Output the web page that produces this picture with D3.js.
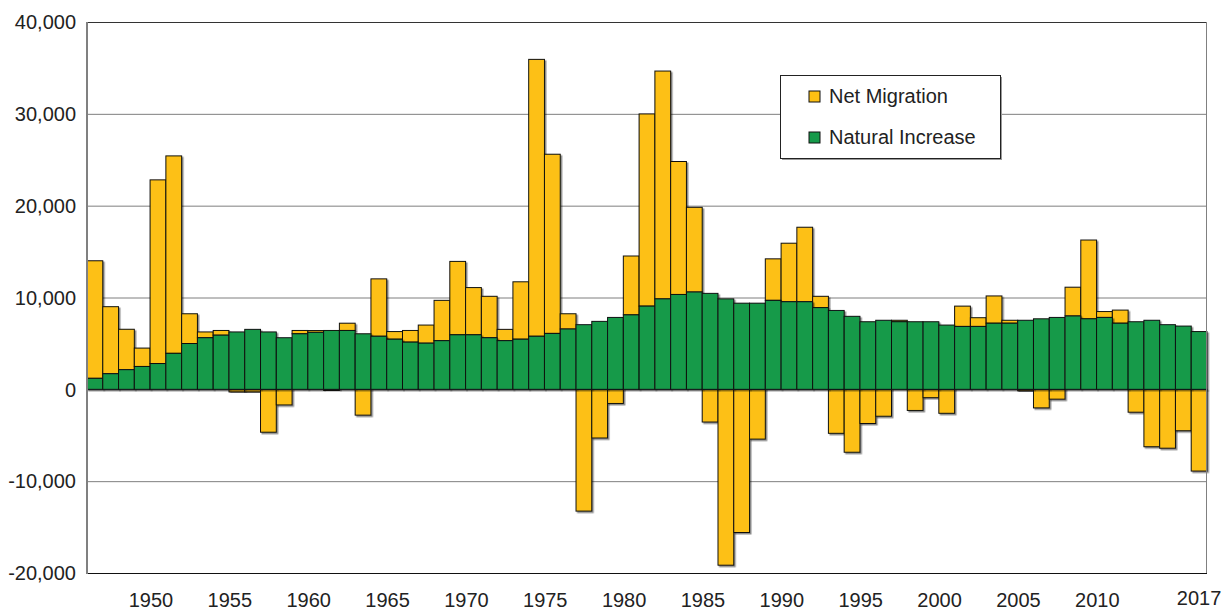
<!DOCTYPE html>
<meta charset="utf-8">
<style>
body { margin: 0; background: #fff; }
svg { font-family: "Liberation Sans", Arial, sans-serif; }
.tick text { font-size: 20px; fill: #222; }
</style>
<svg width="1230" height="610"></svg>
<script src="https://d3js.org/d3.v7.min.js"></script>
<script>

// years on the x axis
var years = d3.range(1947, 2018);

// natural increase (births - deaths)
var naturalIncrease = [
  1200, 1700, 2140, 2490, 2810, 3920, 4990, 5620, 5900, 6250,
  6530, 6250, 5620, 6050, 6210, 6410, 6410, 6050, 5780, 5460,
  5140, 5030, 5300, 5940, 5940, 5620, 5300, 5460, 5780, 6090,
  6570, 7040, 7400, 7830, 8110, 9060, 9850, 10330, 10600, 10450,
  9850, 9380, 9380, 9690, 9540, 9540, 8900, 8590, 7950, 7360,
  7520, 7360, 7360, 7360, 7000, 6850, 6850, 7200, 7200, 7520,
  7680, 7830, 7990, 7680, 7830, 7200, 7360, 7520, 7040, 6890,
  6290
];

// net migration
var netMigration = [
  12800, 7300, 4400, 2000, 20000, 21500, 3240, 630, 510, -280,
  -280, -4670, -1700, 360, 200, -120, 790, -2810, 6250, 830,
  1270, 1970, 4390, 7990, 5140, 4510, 1230, 6250, 30150, 19510,
  1660, -13260, -5300, -1540, 6410, 20930, 24810, 14480, 9220, -3560,
  -19150, -15590, -5420, 4520, 6370, 8110, 1230, -4790, -6850, -3720,
  -2930, 160, -2300, -910, -2610, 2210, 950, 2970, 320, -160,
  -2020, -1070, 3130, 8580, 640, 1430, -2490, -6250, -6410, -4510,
  -8900
];

var xLabels = [1950, 1955, 1960, 1965, 1970, 1975, 1980, 1985, 1990, 1995, 2000, 2005, 2010, 2017];
var yTicks = [-20000, -10000, 0, 10000, 20000, 30000, 40000];

var series = ["Net Migration", "Natural Increase"];
var colors = ["#fdc013", "#159a4a"];

var svg = d3.select("svg");

var plotLeft = 87, plotRight = 1207, plotTop = 22, plotBottom = 573;

var x = d3.scaleBand()
    .domain(years)
    .range([plotLeft, plotRight])
    .padding(0);

var y = d3.scaleLinear()
    .domain([-20000, 40000])
    .range([plotBottom, plotTop]);

var data = years.map(function(yr, i) {
  return { year: yr, nat: naturalIncrease[i], mig: netMigration[i] };
});

// gridlines
svg.append("g")
  .selectAll("line")
  .data(yTicks)
  .enter().append("line")
    .attr("x1", plotLeft)
    .attr("x2", plotRight)
    .attr("y1", function(d) { return y(d) + 0.5; })
    .attr("y2", function(d) { return y(d) + 0.5; })
    .attr("stroke", "#7f7f7f")
    .attr("stroke-width", 1);

// bar shadow filter
var defs = svg.append("defs");
var f = defs.append("filter").attr("id", "shadow")
    .attr("x", "-20%").attr("y", "-20%").attr("width", "140%").attr("height", "140%");
f.append("feDropShadow")
    .attr("dx", 1.5).attr("dy", 1.5).attr("stdDeviation", 0.6)
    .attr("flood-color", "#000").attr("flood-opacity", 0.45);

var bars = svg.append("g");

// net migration: on top of natural increase when positive, below 0 when negative
bars.selectAll("rect.mig")
  .data(data)
  .enter().append("rect")
    .attr("class", "mig")
    .attr("x", function(d) { return x(d.year); })
    .attr("width", x.bandwidth())
    .attr("y", function(d) { return d.mig >= 0 ? y(d.nat + d.mig) : y(0); })
    .attr("height", function(d) { return Math.abs(y(0) - y(Math.abs(d.mig))); })
    .attr("fill", colors[0])
    .attr("stroke", "#111")
    .attr("stroke-width", 1)
    .attr("filter", "url(#shadow)");

bars.selectAll("rect.nat")
  .data(data)
  .enter().append("rect")
    .attr("class", "nat")
    .attr("x", function(d) { return x(d.year); })
    .attr("width", x.bandwidth())
    .attr("y", function(d) { return y(d.nat); })
    .attr("height", function(d) { return y(0) - y(d.nat); })
    .attr("fill", colors[1])
    .attr("stroke", "#111")
    .attr("stroke-width", 1)
    .attr("filter", "url(#shadow)");

// plot frame
svg.append("line").attr("x1", plotLeft).attr("x2", plotRight).attr("y1", plotTop + 0.5).attr("y2", plotTop + 0.5)
    .attr("stroke", "#333");
svg.append("line").attr("x1", plotLeft).attr("x2", plotRight).attr("y1", plotBottom + 0.5).attr("y2", plotBottom + 0.5)
    .attr("stroke", "#111");
svg.append("line").attr("x1", plotLeft).attr("x2", plotLeft).attr("y1", plotTop).attr("y2", plotBottom + 1)
    .attr("stroke", "#808080").attr("stroke-width", 2);
svg.append("line").attr("x1", plotRight - 0.5).attr("x2", plotRight - 0.5).attr("y1", plotTop).attr("y2", plotBottom)
    .attr("stroke", "#808080").attr("stroke-width", 1);

// y axis (plain hyphen for negatives, like the original)
var fmt = d3.format(",");
var yAxis = svg.append("g")
    .attr("transform", "translate(" + plotLeft + ",0)")
    .call(d3.axisLeft(y)
      .tickValues(yTicks)
      .tickSize(0)
      .tickPadding(11)
      .tickFormat(function(d) { return fmt(d).replace("\u2212", "-"); }));
yAxis.select(".domain").remove();
yAxis.selectAll("text").attr("dy", "0.34em");

// x axis labels
var xAxis = svg.append("g")
    .attr("transform", "translate(0," + plotBottom + ")")
    .call(d3.axisBottom(x)
      .tickValues(xLabels)
      .tickSize(0)
      .tickPadding(20));
xAxis.select(".domain").remove();
xAxis.selectAll(".tick")
    .attr("transform", function(d) {
      var dx = d === 2017 ? x(d) + x.bandwidth() / 2 : x(d) + x.bandwidth() * 1.05;
      var dy = d === 2017 ? -2 : 0;
      return "translate(" + dx + "," + dy + ")";
    });

// legend
var lg = svg.append("g").attr("transform", "translate(780,75)");
lg.append("rect")
    .attr("x", 2).attr("y", 2).attr("width", 220).attr("height", 83)
    .attr("fill", "#9a9a9a");
lg.append("rect")
    .attr("x", 0.5).attr("y", 0.5).attr("width", 220).attr("height", 83)
    .attr("fill", "#fff").attr("stroke", "#222");

var item = lg.selectAll("g.item")
  .data(series)
  .enter().append("g")
    .attr("class", "item")
    .attr("transform", function(d, i) { return "translate(29," + (16 + i * 41) + ")"; });

item.append("rect")
    .attr("width", 11).attr("height", 11)
    .attr("fill", function(d, i) { return colors[i]; })
    .attr("stroke", "#111");

item.append("text")
    .attr("x", 20)
    .attr("y", 12)
    .attr("font-size", "20px")
    .attr("fill", "#222")
    .text(function(d) { return d; });

</script>
